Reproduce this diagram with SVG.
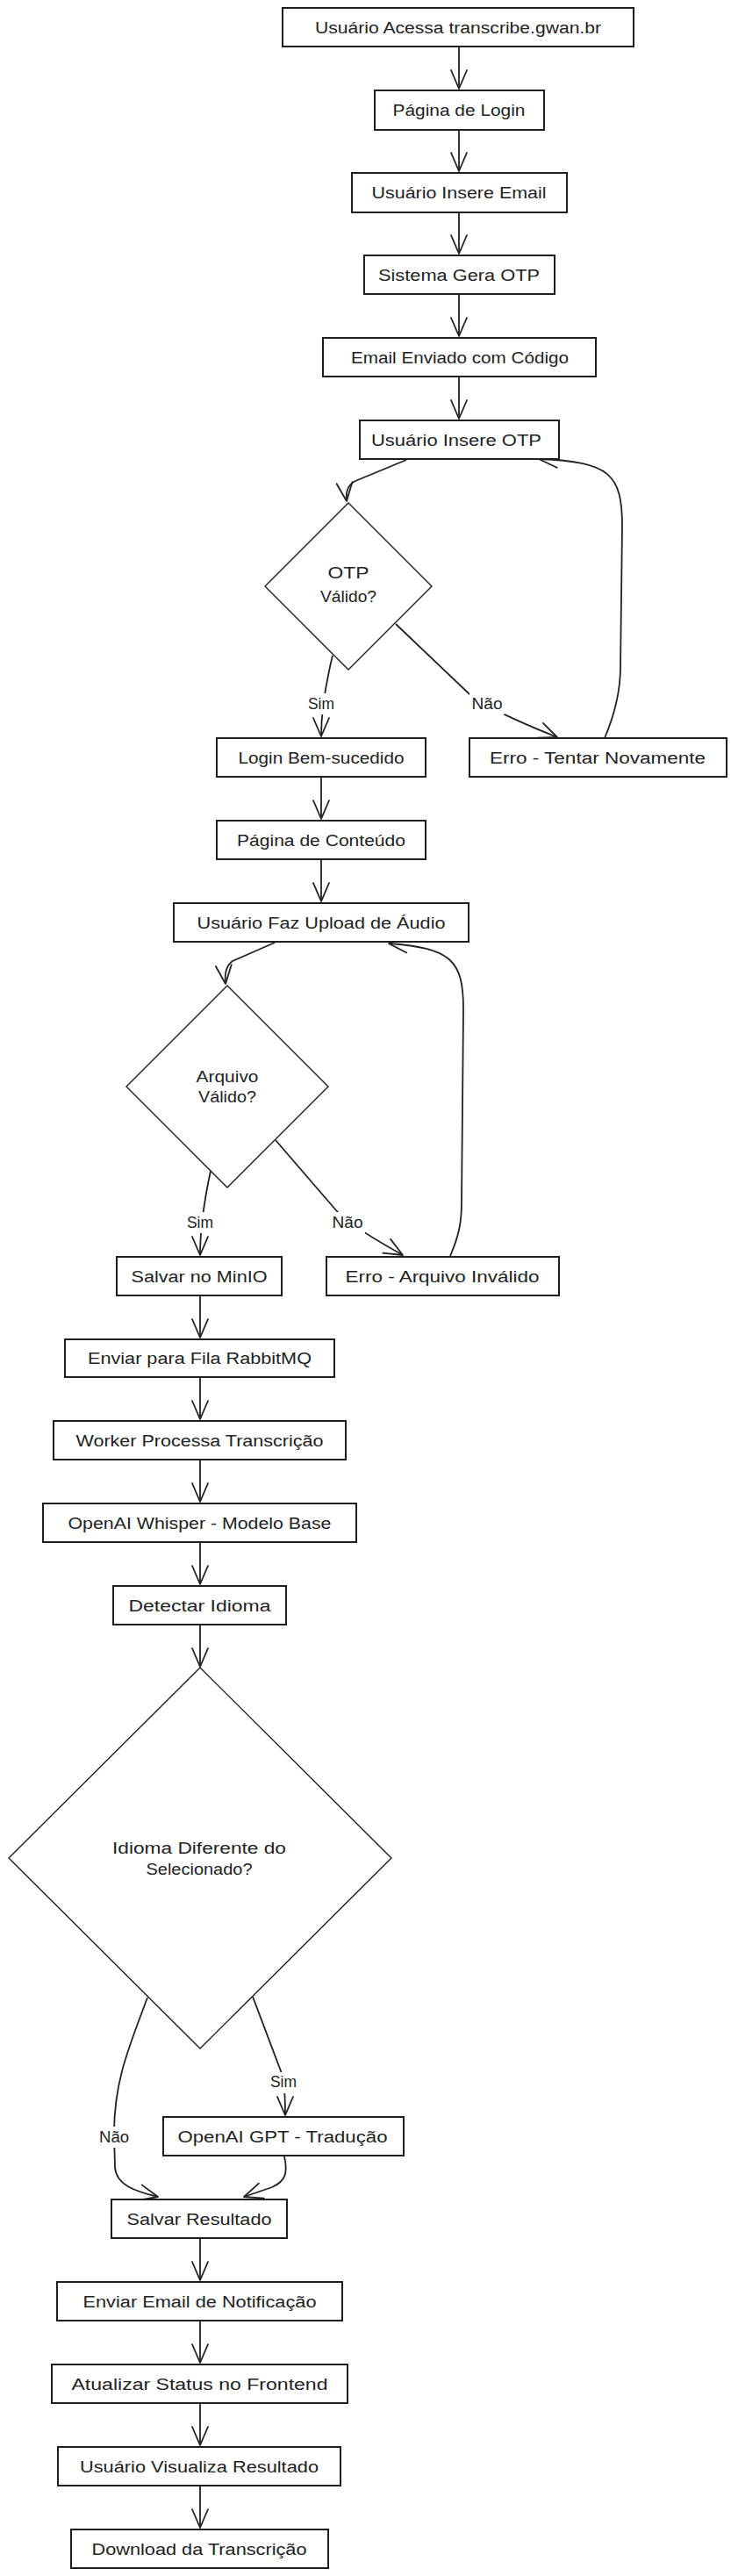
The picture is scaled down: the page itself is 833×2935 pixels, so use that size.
<svg xmlns="http://www.w3.org/2000/svg" width="833" height="2935" viewBox="0 0 833 2935">
<style>
.t{font-family:"Liberation Sans",Arial,sans-serif;font-size:18px;fill:#222;text-anchor:middle}
.box{fill:#fff;stroke:#1e1e1e;stroke-width:2}
.dia{fill:#fff;stroke:#1e1e1e;stroke-width:1.4}
.e{fill:none;stroke:#222;stroke-width:1.8;marker-end:url(#arr)}
.lb{fill:#fff}
</style>
<defs>
<marker id="arr" markerUnits="userSpaceOnUse" markerWidth="26" markerHeight="22" refX="21" refY="9" orient="auto" overflow="visible">
<path d="M0,0 L21,9 L0,18" fill="none" stroke="#222" stroke-width="1.8" stroke-linecap="round" stroke-linejoin="round"/>
</marker>
</defs>
<rect width="833" height="2935" fill="#fff"/>
<g id="connectors">
<path class="e" d="M523,53 L523,101"/>
<path class="e" d="M523,148 L523,195"/>
<path class="e" d="M523,242 L523,289"/>
<path class="e" d="M523,335 L523,383"/>
<path class="e" d="M523,429 L523,477"/>
<path class="e" d="M463,524 L405,548 Q393,554 395,571"/>
<path class="e" d="M379,747 Q366,800 366,839"/>
<path class="e" d="M451,711 L534,790 Q555,808 635,840"/>
<path class="e" d="M689,841 C700,815 707,790 707,760 L709,600 C709,540 695,526 614,523"/>
<path class="e" d="M366,885 L366,933"/>
<path class="e" d="M366,979 L366,1027"/>
<path class="e" d="M313,1074 L265,1095 Q255,1102 257,1121"/>
<path class="e" d="M240,1334 Q228,1390 228,1430"/>
<path class="e" d="M314,1299 L383,1379 Q398,1396 459,1430"/>
<path class="e" d="M513,1431 C522,1410 526,1395 526,1370 L528,1150 C528,1095 515,1080 443,1075"/>
<path class="e" d="M228,1476 L228,1524"/>
<path class="e" d="M228,1569 L228,1617"/>
<path class="e" d="M228,1663 L228,1711"/>
<path class="e" d="M228,1757 L228,1805"/>
<path class="e" d="M228,1851 L228,1899"/>
<path class="e" d="M168,2276 C148,2330 130,2370 130,2430 L131,2470 C133,2490 155,2497 180,2503"/>
<path class="e" d="M288,2275 L322,2365 Q325,2380 325,2410"/>
<path class="e" d="M324,2457 C328,2475 326,2485 310,2492 L278,2503"/>
<path class="e" d="M228,2550 L228,2598"/>
<path class="e" d="M228,2644 L228,2692"/>
<path class="e" d="M228,2738 L228,2786"/>
<path class="e" d="M228,2832 L228,2880"/>
<g id="edge-labels">
<rect class="lb" x="348" y="790" width="36" height="24"/><text class="t" x="366" y="808" textLength="30" lengthAdjust="spacingAndGlyphs">Sim</text>
<rect class="lb" x="535" y="790" width="40" height="24"/><text class="t" x="555" y="808" textLength="35" lengthAdjust="spacingAndGlyphs">Não</text>
<rect class="lb" x="210" y="1381" width="36" height="24"/><text class="t" x="228" y="1399" textLength="30" lengthAdjust="spacingAndGlyphs">Sim</text>
<rect class="lb" x="376" y="1381" width="40" height="24"/><text class="t" x="396" y="1399" textLength="35" lengthAdjust="spacingAndGlyphs">Não</text>
<rect class="lb" x="305" y="2361" width="36" height="24"/><text class="t" x="323" y="2378" textLength="30" lengthAdjust="spacingAndGlyphs">Sim</text>
<rect class="lb" x="110" y="2423" width="40" height="24"/><text class="t" x="130" y="2441" textLength="34" lengthAdjust="spacingAndGlyphs">Não</text>
</g>
</g>
<g id="n1"><rect class="box" x="322" y="9" width="400" height="44"/><text class="t" x="522" y="38" textLength="326" lengthAdjust="spacingAndGlyphs">Usuário Acessa transcribe.gwan.br</text></g>
<g id="n2"><rect class="box" x="427" y="103" width="193" height="45"/><text class="t" x="523" y="132" textLength="151" lengthAdjust="spacingAndGlyphs">Página de Login</text></g>
<g id="n3"><rect class="box" x="401" y="197" width="245" height="45"/><text class="t" x="523" y="226" textLength="199" lengthAdjust="spacingAndGlyphs">Usuário Insere Email</text></g>
<g id="n4"><rect class="box" x="415" y="291" width="217" height="44"/><text class="t" x="523" y="319.5" textLength="184" lengthAdjust="spacingAndGlyphs">Sistema Gera OTP</text></g>
<g id="n5"><rect class="box" x="368" y="385" width="311" height="44"/><text class="t" x="524" y="413.5" textLength="248" lengthAdjust="spacingAndGlyphs">Email Enviado com Código</text></g>
<g id="n6"><rect class="box" x="410" y="479" width="227" height="44"/><text class="t" x="520" y="507.5" textLength="194" lengthAdjust="spacingAndGlyphs">Usuário Insere OTP</text></g>
<g id="d1"><polygon class="dia" points="397,573 492,668 397,763 302,668"/><text class="t" x="397" y="659" textLength="47" lengthAdjust="spacingAndGlyphs">OTP</text><text class="t" x="397" y="686" textLength="64" lengthAdjust="spacingAndGlyphs">Válido?</text></g>
<g id="n7"><rect class="box" x="247" y="841" width="238" height="44"/><text class="t" x="366" y="869.5" textLength="189" lengthAdjust="spacingAndGlyphs">Login Bem-sucedido</text></g>
<g id="n8"><rect class="box" x="535" y="841" width="293" height="44"/><text class="t" x="681" y="869.5" textLength="246" lengthAdjust="spacingAndGlyphs">Erro - Tentar Novamente</text></g>
<g id="n9"><rect class="box" x="247" y="935" width="238" height="44"/><text class="t" x="366" y="963.5" textLength="192" lengthAdjust="spacingAndGlyphs">Página de Conteúdo</text></g>
<g id="n10"><rect class="box" x="198" y="1029" width="336" height="44"/><text class="t" x="366" y="1057.5" textLength="283" lengthAdjust="spacingAndGlyphs">Usuário Faz Upload de Áudio</text></g>
<g id="d2"><polygon class="dia" points="259,1123 374,1238 259,1353 144,1238"/><text class="t" x="259" y="1233" textLength="71" lengthAdjust="spacingAndGlyphs">Arquivo</text><text class="t" x="259" y="1256" textLength="66" lengthAdjust="spacingAndGlyphs">Válido?</text></g>
<g id="n11"><rect class="box" x="133" y="1432" width="188" height="44"/><text class="t" x="227" y="1460.5" textLength="155" lengthAdjust="spacingAndGlyphs">Salvar no MinIO</text></g>
<g id="n12"><rect class="box" x="372" y="1432" width="265" height="44"/><text class="t" x="504" y="1460.5" textLength="221" lengthAdjust="spacingAndGlyphs">Erro - Arquivo Inválido</text></g>
<g id="n13"><rect class="box" x="74" y="1526" width="307" height="43"/><text class="t" x="227.5" y="1554" textLength="255" lengthAdjust="spacingAndGlyphs">Enviar para Fila RabbitMQ</text></g>
<g id="n14"><rect class="box" x="61" y="1619" width="333" height="44"/><text class="t" x="227.5" y="1647.5" textLength="282" lengthAdjust="spacingAndGlyphs">Worker Processa Transcrição</text></g>
<g id="n15"><rect class="box" x="49" y="1713" width="357" height="44"/><text class="t" x="227.5" y="1741.5" textLength="300" lengthAdjust="spacingAndGlyphs">OpenAI Whisper - Modelo Base</text></g>
<g id="n16"><rect class="box" x="129" y="1807" width="197" height="44"/><text class="t" x="227.5" y="1835.5" textLength="162" lengthAdjust="spacingAndGlyphs">Detectar Idioma</text></g>
<g id="d3"><polygon class="dia" points="228,1900 446,2117 228,2334 10,2117"/><text class="t" x="227" y="2112" textLength="198" lengthAdjust="spacingAndGlyphs">Idioma Diferente do</text><text class="t" x="227" y="2136" textLength="121" lengthAdjust="spacingAndGlyphs">Selecionado?</text></g>
<g id="n17"><rect class="box" x="186" y="2412" width="274" height="44"/><text class="t" x="322" y="2440.5" textLength="239" lengthAdjust="spacingAndGlyphs">OpenAI GPT - Tradução</text></g>
<g id="n18"><rect class="box" x="127" y="2506" width="200" height="44"/><text class="t" x="227" y="2534.5" textLength="165" lengthAdjust="spacingAndGlyphs">Salvar Resultado</text></g>
<g id="n19"><rect class="box" x="65" y="2600" width="325" height="44"/><text class="t" x="227.5" y="2628.5" textLength="266" lengthAdjust="spacingAndGlyphs">Enviar Email de Notificação</text></g>
<g id="n20"><rect class="box" x="59" y="2694" width="337" height="44"/><text class="t" x="227.5" y="2722.5" textLength="292" lengthAdjust="spacingAndGlyphs">Atualizar Status no Frontend</text></g>
<g id="n21"><rect class="box" x="66" y="2788" width="322" height="44"/><text class="t" x="227" y="2816.5" textLength="272" lengthAdjust="spacingAndGlyphs">Usuário Visualiza Resultado</text></g>
<g id="n22"><rect class="box" x="81" y="2882" width="293" height="44"/><text class="t" x="227" y="2910.5" textLength="245" lengthAdjust="spacingAndGlyphs">Download da Transcrição</text></g>
</svg>
